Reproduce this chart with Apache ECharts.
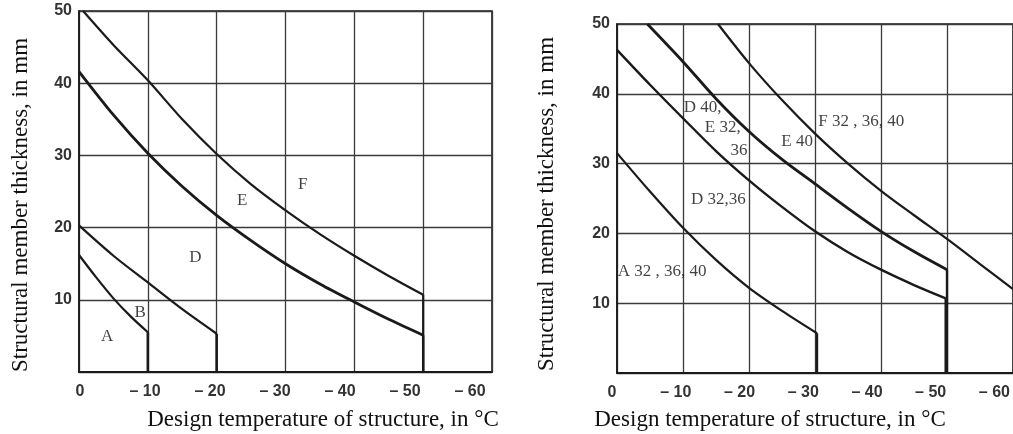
<!DOCTYPE html>
<html>
<head>
<meta charset="utf-8">
<script src="https://cdn.jsdelivr.net/npm/echarts@6/dist/echarts.min.js"></script>
<style>
html,body{margin:0;padding:0;background:#fff;}
#c{width:1013px;height:434px;}
</style>
</head>
<body>
<div id="c"></div>
<script>
// ---------- data ----------
const xTicks = [0, -10, -20, -30, -40, -50, -60];
const yTicks = [0, 10, 20, 30, 40, 50];
const yAxisTitle = 'Structural member thickness, in mm';
const xAxisTitle = 'Design temperature of structure, in °C';

// left chart boundaries (temperature °C, thickness mm)
const leftA  = [[0,16.2],[-2.5,13.1],[-5,10.2],[-7.5,7.7],[-10,5.5]];
const leftB  = [[0,20.3],[-5,16.1],[-10,12.4],[-15,8.7],[-20,5.3]];
const leftD  = [[0,41.6],[-5,35.6],[-10,30.3],[-15,25.7],[-20,21.7],[-25,18.2],[-30,15.0],[-35,12.2],[-40,9.7],[-45,7.3],[-50,5.1]];
const leftE  = [[-0.6,50],[-5,45.3],[-10,40.4],[-15,35.0],[-20,30.2],[-25,26.0],[-30,22.4],[-35,19.1],[-40,16.1],[-45,13.3],[-50,10.7]];
const leftLabels = [['A',-4.1,4.9],['B',-8.9,8.3],['D',-16.9,15.8],['E',-23.7,23.8],['F',-32.5,25.9]];

// right chart boundaries
const rightA = [[0,31.5],[-5,26],[-10,20.8],[-15,16.2],[-20,12.2],[-25,8.9],[-30.3,5.7]];
const rightD = [[0,46.3],[-5,41.3],[-10,36.5],[-15,31.8],[-20,27.6],[-25,23.8],[-30,20.3],[-35,17.3],[-40,14.8],[-45,12.6],[-49.8,10.7]];
const rightE = [[-4.6,50],[-10,44.6],[-15,39.3],[-20,34.6],[-25,30.6],[-30,27.1],[-35,23.6],[-40,20.3],[-45,17.4],[-50,14.8]];
const rightF = [[-15.3,50],[-20,44.4],[-25,39.1],[-30,34.3],[-35,30],[-40,26.1],[-45,22.6],[-50,19.2],[-55,15.6],[-60,12.0]];
const rightLabels = [['D 40,',-10.1,38.1],['E 32,',-13.3,35.1],['36',-17.2,31.9],['E 40',-24.9,33.1],
                     ['F 32 , 36, 40',-30.5,36.0],['D 32,36',-11.2,24.8],['A 32 , 36, 40',-0.1,14.6]];

// ---------- chart ----------
const ink = '#1a1a1a';
const gridInk = '#3a3a3a';
const tickFont = {fontFamily:'"Liberation Sans Narrow","Liberation Sans",Arial,sans-serif', fontWeight:'bold', fontSize:16, color:'#333'};
const xFmt = v => v === 0 ? '0' : '– ' + Math.abs(v);

function plotX(gi){
  return {type:'value', gridIndex:gi, inverse:true, min:-60, max:0, interval:10,
    axisLine:{show:true, lineStyle:{color:ink, width:2}}, axisTick:{show:false},
    axisLabel:{show:false}, splitLine:{show:true, lineStyle:{color:gridInk, width:1.3}}};
}
function plotY(gi){
  return {type:'value', gridIndex:gi, min:0, max:50, interval:10,
    axisLine:{show:true, lineStyle:{color:ink, width:1.6}}, axisTick:{show:false},
    axisLabel:Object.assign({margin:7, formatter: v => v === 0 ? '' : String(v)}, tickFont),
    splitLine:{show:true, lineStyle:{color:gridInk, width:1.3}}};
}
function labelX(gi){
  return {type:'value', gridIndex:gi, inverse:true, min:-60, max:0, interval:10,
    axisLine:{show:false}, axisTick:{show:false}, splitLine:{show:false},
    axisLabel:Object.assign({margin:12, formatter:xFmt}, tickFont)};
}
function hiddenY(gi){
  return {type:'value', gridIndex:gi, min:0, max:50, show:false};
}
function curve(data, xi, w){
  return {type:'line', xAxisIndex:xi, yAxisIndex:xi, data:data, showSymbol:false, symbol:'none',
    smooth:0.3, lineStyle:{color:ink, width:w}, silent:true, z:5};
}
function drop(data, xi, w){
  const p = data[data.length-1];
  return {type:'line', xAxisIndex:xi, yAxisIndex:xi, data:[[p[0],p[1]],[p[0],0]], showSymbol:false, symbol:'none',
    lineStyle:{color:ink, width:w}, silent:true, z:5};
}
function notes(list, xi, align){
  return {type:'scatter', xAxisIndex:xi, yAxisIndex:xi, symbolSize:1, itemStyle:{color:'rgba(0,0,0,0)'}, silent:true, z:6,
    data:list.map(d => ({name:d[0], value:[d[1], d[2]]})),
    label:{show:true, position:'inside', formatter:'{b}', align:align, verticalAlign:'middle',
      fontFamily:'"Liberation Serif","Times New Roman",serif', fontSize:17, color:'#111'}};
}

const chart = echarts.init(document.getElementById('c'), null, {renderer:'canvas'});
chart.setOption({
  backgroundColor:'#fff',
  animation:false,
  grid:[
    {left:79, top:11, width:413, height:361, show:true, borderColor:ink, borderWidth:1.6, backgroundColor:'transparent'},
    {left:617, top:24, width:405, height:349, show:true, borderColor:ink, borderWidth:1.6, backgroundColor:'transparent'},
    {left:80, top:11, width:390, height:361},
    {left:612, top:24, width:384, height:349}
  ],
  xAxis:[plotX(0), plotX(1), labelX(2), labelX(3)],
  yAxis:[plotY(0), plotY(1), hiddenY(2), hiddenY(3)],
  series:[
    curve(leftA,0,2.2), drop(leftA,0,2.6),
    curve(leftB,0,2.2), drop(leftB,0,2.6),
    curve(leftD,0,2.8), drop(leftD,0,2.4),
    curve(leftE,0,2.2), drop(leftE,0,2.2),
    notes(leftLabels,0,'center'),
    curve(rightA,1,2.2), drop(rightA,1,2.4),
    curve(rightD,1,2.4), drop(rightD,1,2.4),
    curve(rightE,1,2.8), drop(rightE,1,2.4),
    curve(rightF,1,2.2),
    notes(rightLabels,1,'left')
  ],
  graphic:[
    {type:'text', x:21, y:205, rotation:Math.PI/2, style:{text:yAxisTitle, align:'center', verticalAlign:'middle',
      font:'23px "Liberation Serif","Times New Roman",serif', fill:'#111'}},
    {type:'text', x:547, y:204, rotation:Math.PI/2, style:{text:yAxisTitle, align:'center', verticalAlign:'middle',
      font:'23px "Liberation Serif","Times New Roman",serif', fill:'#111'}},
    {type:'text', x:323, y:420, style:{text:xAxisTitle, align:'center', verticalAlign:'middle',
      font:'23px "Liberation Serif","Times New Roman",serif', fill:'#111'}},
    {type:'text', x:770, y:420, style:{text:xAxisTitle, align:'center', verticalAlign:'middle',
      font:'23px "Liberation Serif","Times New Roman",serif', fill:'#111'}}
  ]
});
</script>
</body>
</html>
